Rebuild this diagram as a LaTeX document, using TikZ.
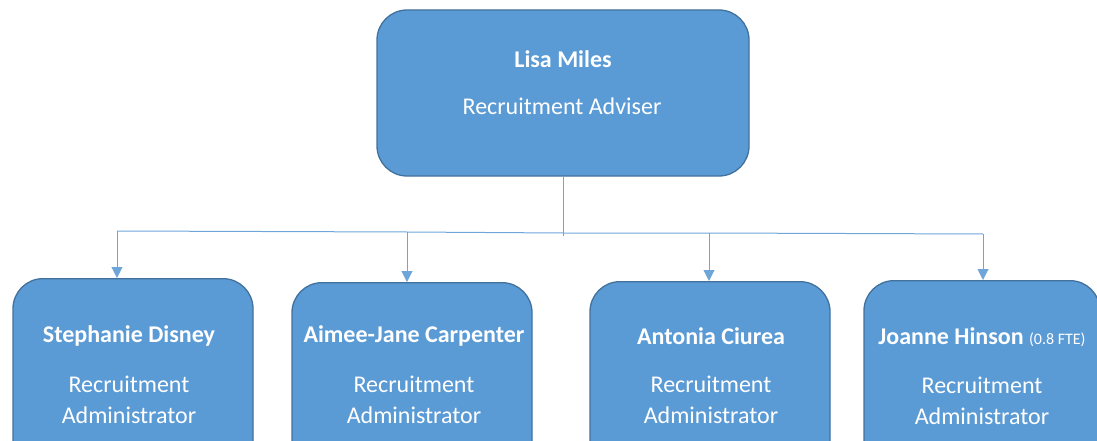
\documentclass[tikz,border=0pt]{standalone}
\usepackage{fontspec}
\setmainfont{Carlito}
\usetikzlibrary{arrows.meta,calc}
\definecolor{boxfill}{HTML}{5B9BD5}
\definecolor{boxedge}{HTML}{41719C}
\definecolor{linec}{HTML}{6FA6DA}
\begin{document}
\begin{tikzpicture}[x=1pt,y=-1pt,
  box/.style={draw=boxedge, line width=1.3pt, fill=boxfill, rounded corners=30pt, inner sep=0pt},
  lbl/.style={text=white, font=\fontsize{24}{31}\selectfont, align=center, inner sep=0pt},
  namelbl/.style={lbl, font=\fontsize{24}{28}\selectfont\bfseries},
  conn/.style={draw=linec, line width=1pt},
  arr/.style={conn, -{Triangle[length=11pt,width=11pt]}}]
\useasboundingbox (0,0) rectangle (1097,441);
\clip (0,0) rectangle (1097,441);
% top box
\node[box, minimum width=372pt, minimum height=166pt] (top) at (563,93) {};
\node[namelbl] (topname) at (563,59) {Lisa Miles};
\node[lbl] (toprole) at (562,106) {Recruitment Adviser};
% child boxes
\node[box, minimum width=240pt, minimum height=196pt, anchor=north] (c1) at (133,278) {};
\node[box, minimum width=240pt, minimum height=196pt, anchor=north] (c2) at (412,282) {};
\node[box, minimum width=240pt, minimum height=196pt, anchor=north] (c3) at (710,281) {};
\node[box, minimum width=236pt, minimum height=196pt, anchor=north] (c4) at (982,280) {};
% child labels
\node[namelbl] (n1) at (129,336) {Stephanie Disney};
\node[lbl] (r1) at (129,400) {Recruitment\\Administrator};
\node[namelbl] (n2) at (414,336) {Aimee-Jane Carpenter};
\node[lbl] (r2) at (414,400) {Recruitment\\Administrator};
\node[namelbl] (n3) at (711,336) {Antonia Ciurea};
\node[lbl] (r3) at (711,400) {Recruitment\\Administrator};
\node[lbl, font=\fontsize{24}{28}\selectfont] (n4) at (982,337) {\textbf{Joanne Hinson} {\fontsize{16}{18}\selectfont (0.8 FTE)}};
\node[lbl] (r4) at (982,401) {Recruitment\\Administrator};
% connectors
\coordinate (j) at (563,233);
\coordinate (jb) at (563,236);
\coordinate (b1) at (117,231);
\coordinate (b2) at (407,232);
\coordinate (b3) at (709,233);
\coordinate (b4) at (983,234);
\draw[conn] (top.south) -- (jb);
\draw[conn] (b1) -- (b2) -- (j) -- (b3) -- (b4);
\draw[arr] (b1) -- (b1 |- c1.north);
\draw[arr] (b2) -- (b2 |- c2.north);
\draw[arr] (b3) -- (b3 |- c3.north);
\draw[arr] (b4) -- (b4 |- c4.north);
\end{tikzpicture}
\end{document}
